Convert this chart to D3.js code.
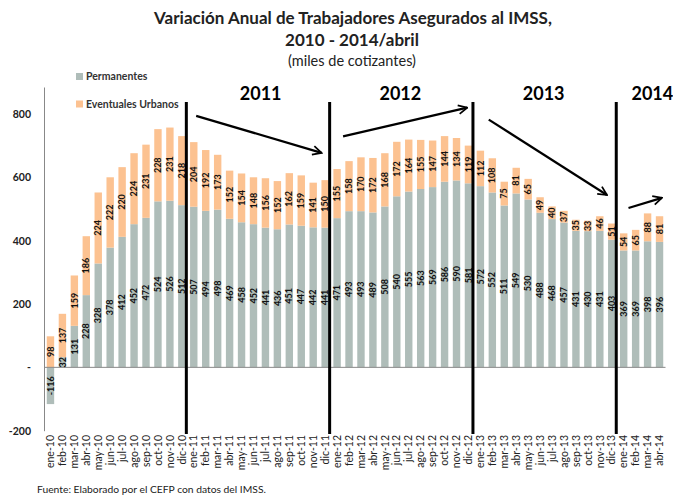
<!DOCTYPE html>
<html>
<head>
<meta charset="utf-8">
<script src="https://cdn.jsdelivr.net/npm/d3@7"></script>
<style>
  body { margin: 0; background: #fff; }
  svg { font-family: Lato, "Open Sans", sans-serif; }
</style>
</head>
<body>
<div id="chart"></div>
<script>
(function () {

  // months on the x axis
  var months = ['ene-10','feb-10','mar-10','abr-10','may-10','jun-10','jul-10','ago-10','sep-10','oct-10','nov-10','dic-10',
    'ene-11','feb-11','mar-11','abr-11','may-11','jun-11','jul-11','ago-11','sep-11','oct-11','nov-11','dic-11',
    'ene-12','feb-12','mar-12','abr-12','may-12','jun-12','jul-12','ago-12','sep-12','oct-12','nov-12','dic-12',
    'ene-13','feb-13','mar-13','abr-13','may-13','jun-13','jul-13','ago-13','sep-13','oct-13','nov-13','dic-13',
    'ene-14','feb-14','mar-14','abr-14']

  // permanentes (miles)
  var permanentes = [-116, 32, 131, 228, 328, 378, 412, 452, 472, 524, 526, 512,
    507, 494, 498, 469, 458, 452, 441, 436, 451, 447, 442, 441,
    471, 493, 493, 489, 508, 540, 555, 563, 569, 586, 590, 581,
    572, 552, 511, 549, 530, 488, 468, 457, 431, 430, 431, 403,
    369, 369, 398, 396]

  // eventuales urbanos (miles)
  var eventuales = [98, 137, 159, 186, 224, 222, 220, 224, 231, 228, 231, 218,
    204, 192, 173, 152, 154, 148, 156, 152, 162, 159, 141, 150,
    155, 158, 170, 172, 168, 172, 164, 155, 147, 144, 134, 119,
    112, 108, 75, 81, 65, 49, 40, 37, 35, 33, 46, 51,
    54, 65, 88, 81]

  var yTicks = [-200, 0, 200, 400, 600, 800]

  // year separators (after december) and year labels
  var dividers = ['dic-10', 'dic-11', 'dic-12', 'dic-13']
  var years = [
    { label: '2011', at: 17.6 },
    { label: '2012', at: 29.3 },
    { label: '2013', at: 41.3 },
    { label: '2014', at: 50.4 }
  ]

  // trend arrows: [month index, value] start -> end
  var arrows = [
    [[12.2, 794], [22.7, 677]],
    [[24.5, 729], [34.9, 820]],
    [[36.7, 782], [46.6, 544]],
    [[48.4, 503], [51.2, 535]]
  ]

  var colors = { perm: '#AFBDB9', even: '#FCC291' }

  var width = 673, height = 500

  var svg = d3.select('#chart').append('svg')
    .attr('width', width)
    .attr('height', height)

  var x = d3.scaleBand()
    .domain(months)
    .range([44.5, 665.5])
    .paddingInner(0.38)
    .paddingOuter(0.19)

  var y = d3.scaleLinear()
    .domain([-200, 885])
    .range([430.7, 87])

  // x by fractional month index, for annotations
  var xi = i => x(months[0]) + x.bandwidth() / 2 + i * x.step()

  // title
  svg.append('text')
    .attr('x', 353).attr('y', 24)
    .attr('text-anchor', 'middle')
    .attr('font-weight', 'bold')
    .attr('font-size', 17)
    .attr('fill', '#222')
    .text('Variación Anual de Trabajadores Asegurados al IMSS,')

  svg.append('text')
    .attr('x', 352).attr('y', 46)
    .attr('text-anchor', 'middle')
    .attr('font-weight', 'bold')
    .attr('font-size', 17)
    .attr('fill', '#222')
    .text('2010 - 2014/abril')

  svg.append('text')
    .attr('x', 352).attr('y', 66)
    .attr('text-anchor', 'middle')
    .attr('font-size', 14.5)
    .attr('fill', '#222')
    .text('(miles de cotizantes)')

  // legend
  var legend = svg.append('g')
  var legendItems = [['Permanentes', colors.perm, 73], ['Eventuales Urbanos', colors.even, 100.5]]
  legend.selectAll('rect')
    .data(legendItems)
    .join('rect')
    .attr('x', 76)
    .attr('y', d => d[2])
    .attr('width', 7)
    .attr('height', 7)
    .attr('fill', d => d[1])
  legend.selectAll('text')
    .data(legendItems)
    .join('text')
    .attr('x', 86)
    .attr('y', d => d[2] + 7)
    .attr('font-size', 10.5)
    .attr('font-weight', 'bold')
    .attr('fill', '#333')
    .text(d => d[0])

  // y axis
  var yAxis = d3.axisLeft(y)
    .tickValues(yTicks)
    .tickSize(0)
    .tickPadding(13)
    .tickFormat(d => d === 0 ? '-' : d)
  var yg = svg.append('g')
    .attr('transform', 'translate(44,0)')
    .call(yAxis)
  yg.select('.domain').attr('stroke', '#888')
  yg.selectAll('text')
    .attr('font-family', 'Lato, sans-serif')
    .attr('font-size', 10.5)
    .attr('font-weight', 'bold')
    .attr('fill', '#222')

  // bars
  var rows = months.map((m, i) => ({ month: m, perm: permanentes[i], even: eventuales[i] }))

  var bars = svg.append('g')
  bars.selectAll('.perm')
    .data(rows)
    .join('rect')
    .attr('class', 'perm')
    .attr('x', d => x(d.month))
    .attr('width', x.bandwidth())
    .attr('y', d => y(Math.max(0, d.perm)))
    .attr('height', d => Math.abs(y(d.perm) - y(0)))
    .attr('fill', colors.perm)

  bars.selectAll('.even')
    .data(rows)
    .join('rect')
    .attr('class', 'even')
    .attr('x', d => x(d.month))
    .attr('width', x.bandwidth())
    .attr('y', d => y(Math.max(0, d.perm) + d.even))
    .attr('height', d => y(Math.max(0, d.perm)) - y(Math.max(0, d.perm) + d.even))
    .attr('fill', colors.even)

  // zero line
  svg.append('line')
    .attr('x1', 44).attr('x2', 665.5)
    .attr('y1', y(0)).attr('y2', y(0))
    .attr('stroke', '#888')

  // value labels
  var labels = svg.append('g')
    .attr('font-size', 9)
    .attr('font-weight', 'bold')
    .attr('fill', '#111')

  labels.selectAll('.lp')
    .data(rows)
    .join('text')
    .attr('class', 'lp')
    .attr('text-anchor', 'middle')
    .attr('dy', '0.35em')
    .attr('transform', d => 'translate(' + (x(d.month) + x.bandwidth() / 2) + ',' + y(d.perm / 2) + ') rotate(-90)')
    .text(d => d.perm)

  labels.selectAll('.le')
    .data(rows)
    .join('text')
    .attr('class', 'le')
    .attr('text-anchor', 'middle')
    .attr('dy', '0.35em')
    .attr('transform', d => 'translate(' + (x(d.month) + x.bandwidth() / 2) + ',' + y(Math.max(0, d.perm) + d.even / 2) + ') rotate(-90)')
    .text(d => d.even)

  // x axis labels
  svg.append('g').selectAll('text')
    .data(months)
    .join('text')
    .attr('text-anchor', 'end')
    .attr('dy', '0.35em')
    .attr('font-size', 10.5)
    .attr('fill', '#222')
    .attr('transform', d => 'translate(' + (x(d) + x.bandwidth() / 2) + ',435) rotate(-90)')
    .text(d => d)

  // year dividers
  svg.append('g').selectAll('line')
    .data(dividers)
    .join('line')
    .attr('x1', d => x(d) + x.bandwidth() / 2 + 4.5)
    .attr('x2', d => x(d) + x.bandwidth() / 2 + 4.5)
    .attr('y1', 102)
    .attr('y2', 434)
    .attr('stroke', '#000')
    .attr('stroke-width', 3)

  svg.append('g').selectAll('text')
    .data(years)
    .join('text')
    .attr('x', d => xi(d.at))
    .attr('y', 100)
    .attr('text-anchor', 'middle')
    .attr('font-size', 18)
    .attr('font-weight', 'bold')
    .attr('fill', '#000')
    .text(d => d.label)

  // arrows
  svg.append('defs').append('marker')
    .attr('id', 'head')
    .attr('viewBox', '0 0 10 10')
    .attr('refX', 9).attr('refY', 5)
    .attr('markerWidth', 5).attr('markerHeight', 5)
    .attr('orient', 'auto')
    .append('path')
    .attr('d', 'M1,1 L9,5 L1,9')
    .attr('fill', 'none')
    .attr('stroke', '#000')
    .attr('stroke-width', 1.6)

  svg.append('g').selectAll('line')
    .data(arrows)
    .join('line')
    .attr('x1', d => xi(d[0][0]))
    .attr('y1', d => y(d[0][1]))
    .attr('x2', d => xi(d[1][0]))
    .attr('y2', d => y(d[1][1]))
    .attr('stroke', '#000')
    .attr('stroke-width', 2.2)
    .attr('marker-end', 'url(#head)')

  // source
  svg.append('text')
    .attr('x', 37).attr('y', 493)
    .attr('font-size', 10.3)
    .attr('fill', '#222')
    .text('Fuente: Elaborado por el CEFP con datos del IMSS.')

})();
</script>
</body>
</html>
